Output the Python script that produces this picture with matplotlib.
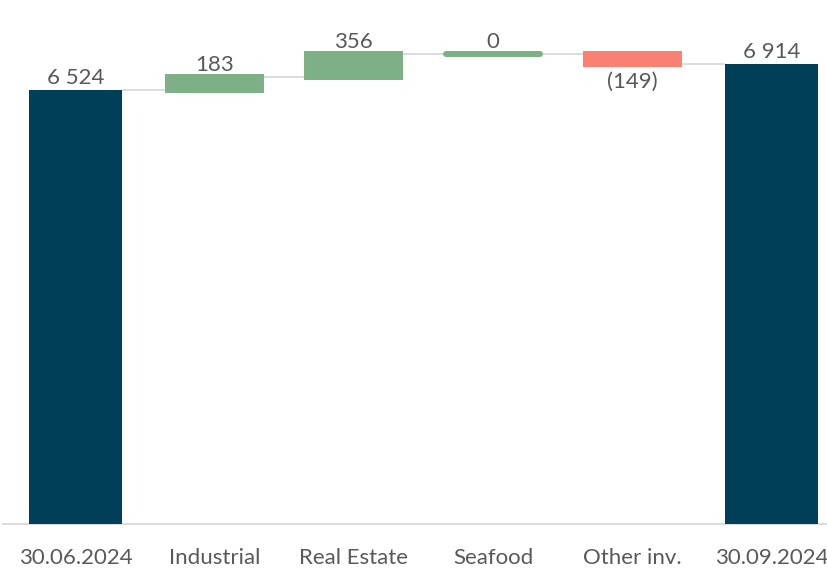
import matplotlib
matplotlib.use("Agg")
import matplotlib.pyplot as plt

categories = ["30.06.2024", "Industrial", "Real Estate", "Seafood", "Other inv.", "30.09.2024"]
start_value = 6524
changes = [183, 356, 0, -149]
end_value = 6914

plt.rcParams['font.family'] = ['Lato', 'DejaVu Sans']

DARK = "#003F58"
GREEN = "#7DB085"
RED = "#FA8072"
TEXT = "#595959"
GRID = "#D9D9D9"
FS = 16

fig = plt.figure(figsize=(8.27, 5.70), dpi=100)
ax = fig.add_axes([3/827, 46/570, 824/827, 524/570])

w = 0.67

def fmt(v):
    s = f"{abs(v):,}".replace(",", " ")
    return f"({s})" if v < 0 else s

# start bar
ax.bar(0, start_value, width=w, color=DARK, zorder=3)
ax.annotate(fmt(start_value), (0, start_value), xytext=(0, 1.5), textcoords="offset points",
            ha="center", va="bottom", fontsize=FS, color=TEXT)

level = start_value
levels = [start_value]
for i, c in enumerate(changes, start=1):
    bottom = level if c >= 0 else level + c
    col = GREEN if c >= 0 else RED
    js = "round" if c == 0 else "miter"
    ax.bar(i, abs(c), bottom=bottom, width=w, color=col, edgecolor=col,
           linewidth=4.3, joinstyle=js, capstyle="round", zorder=3)
    if c >= 0:
        ax.annotate(fmt(c), (i, level + c), xytext=(0, 1.5), textcoords="offset points",
                    ha="center", va="bottom", fontsize=FS, color=TEXT)
    else:
        ax.annotate(fmt(c), (i, level + c), xytext=(0, -6), textcoords="offset points",
                    ha="center", va="top", fontsize=FS, color=TEXT)
    level += c
    levels.append(level)

n = len(categories)
ax.bar(n - 1, end_value, width=w, color=DARK, zorder=3)
ax.annotate(fmt(end_value), (n - 1, end_value), xytext=(0, 1.5), textcoords="offset points",
            ha="center", va="bottom", fontsize=FS, color=TEXT)

# connectors
for i, lv in enumerate(levels):
    ax.plot([i + w/2, i + 1 - w/2], [lv, lv], color=GRID, lw=1.3, zorder=2,
            solid_capstyle="butt")

ax.set_xlim(-0.52, 5.4)
ax.set_ylim(0, 7870)
ax.set_xticks(range(n))
ax.set_xticklabels(categories, fontsize=FS, color=TEXT)
ax.tick_params(axis="x", length=0, pad=17)
ax.set_yticks([])
for s in ["top", "left", "right"]:
    ax.spines[s].set_visible(False)
ax.spines["bottom"].set_color(GRID)
ax.spines["bottom"].set_linewidth(1.3)

fig.savefig("out.png", dpi=100)
